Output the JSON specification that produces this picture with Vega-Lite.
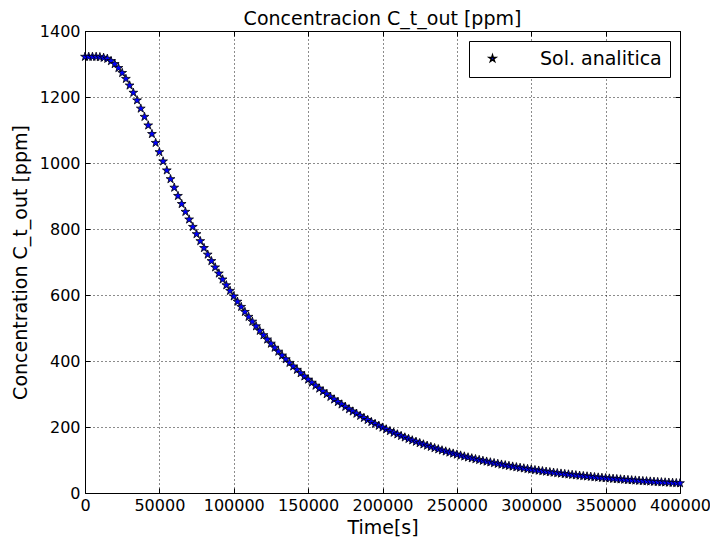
{
  "$schema": "https://vega.github.io/schema/vega-lite/v6.json",
  "autosize": "none",
  "width": 595,
  "height": 462,
  "padding": {"left": 85, "top": 31, "right": 30, "bottom": 47},
  "background": "white",
  "config": {
    "font": "DejaVu Sans",
    "view": {"stroke": "#000"},
    "axis": {
      "domainColor": "#000", "tickColor": "#000", "labelColor": "#000", "titleColor": "#000",
      "gridColor": "#000", "gridOpacity": 0.9,
      "labelFontSize": 16, "titleFontSize": 19, "titleFontWeight": "normal"
    },
    "title": {"fontSize": 19, "fontWeight": "normal", "color": "#000", "offset": -6}
  },
  "title": "Concentracion C_t_out [ppm]",
  "data": {"values": [
    {"s":"Sol. analitica","t":0,"c":1322},{"s":"Sol. analitica","t":2500,"c":1322},{"s":"Sol. analitica","t":5000,"c":1322},{"s":"Sol. analitica","t":7500,"c":1322},{"s":"Sol. analitica","t":10000,"c":1321},
    {"s":"Sol. analitica","t":12500,"c":1319},{"s":"Sol. analitica","t":15000,"c":1316},{"s":"Sol. analitica","t":17500,"c":1309},{"s":"Sol. analitica","t":20000,"c":1300},{"s":"Sol. analitica","t":22500,"c":1288},
    {"s":"Sol. analitica","t":25000,"c":1273},{"s":"Sol. analitica","t":27500,"c":1255},{"s":"Sol. analitica","t":30000,"c":1235},{"s":"Sol. analitica","t":32500,"c":1213},{"s":"Sol. analitica","t":35000,"c":1190},
    {"s":"Sol. analitica","t":37500,"c":1165},{"s":"Sol. analitica","t":40000,"c":1140},{"s":"Sol. analitica","t":42500,"c":1114},{"s":"Sol. analitica","t":45000,"c":1088},{"s":"Sol. analitica","t":47500,"c":1061},
    {"s":"Sol. analitica","t":50000,"c":1033},{"s":"Sol. analitica","t":52500,"c":1005},{"s":"Sol. analitica","t":55000,"c":977.7},{"s":"Sol. analitica","t":57500,"c":951.2},{"s":"Sol. analitica","t":60000,"c":925.4},
    {"s":"Sol. analitica","t":62500,"c":900.3},{"s":"Sol. analitica","t":65000,"c":875.9},{"s":"Sol. analitica","t":67500,"c":852.1},{"s":"Sol. analitica","t":70000,"c":829.0},{"s":"Sol. analitica","t":72500,"c":806.5},
    {"s":"Sol. analitica","t":75000,"c":784.6},{"s":"Sol. analitica","t":77500,"c":763.4},{"s":"Sol. analitica","t":80000,"c":742.6},{"s":"Sol. analitica","t":82500,"c":722.5},{"s":"Sol. analitica","t":85000,"c":702.9},
    {"s":"Sol. analitica","t":87500,"c":683.8},{"s":"Sol. analitica","t":90000,"c":665.3},{"s":"Sol. analitica","t":92500,"c":647.2},{"s":"Sol. analitica","t":95000,"c":629.7},{"s":"Sol. analitica","t":97500,"c":612.6},
    {"s":"Sol. analitica","t":100000,"c":596.0},{"s":"Sol. analitica","t":102500,"c":579.8},{"s":"Sol. analitica","t":105000,"c":564.1},{"s":"Sol. analitica","t":107500,"c":548.8},{"s":"Sol. analitica","t":110000,"c":533.9},
    {"s":"Sol. analitica","t":112500,"c":519.4},{"s":"Sol. analitica","t":115000,"c":505.3},{"s":"Sol. analitica","t":117500,"c":491.6},{"s":"Sol. analitica","t":120000,"c":478.3},{"s":"Sol. analitica","t":122500,"c":465.3},
    {"s":"Sol. analitica","t":125000,"c":452.7},{"s":"Sol. analitica","t":127500,"c":440.4},{"s":"Sol. analitica","t":130000,"c":428.5},{"s":"Sol. analitica","t":132500,"c":416.8},{"s":"Sol. analitica","t":135000,"c":405.5},
    {"s":"Sol. analitica","t":137500,"c":394.5},{"s":"Sol. analitica","t":140000,"c":383.8},{"s":"Sol. analitica","t":142500,"c":373.4},{"s":"Sol. analitica","t":145000,"c":363.3},{"s":"Sol. analitica","t":147500,"c":353.4},
    {"s":"Sol. analitica","t":150000,"c":343.8},{"s":"Sol. analitica","t":152500,"c":334.5},{"s":"Sol. analitica","t":155000,"c":325.4},{"s":"Sol. analitica","t":157500,"c":316.6},{"s":"Sol. analitica","t":160000,"c":308.0},
    {"s":"Sol. analitica","t":162500,"c":299.7},{"s":"Sol. analitica","t":165000,"c":291.5},{"s":"Sol. analitica","t":167500,"c":283.6},{"s":"Sol. analitica","t":170000,"c":275.9},{"s":"Sol. analitica","t":172500,"c":268.5},
    {"s":"Sol. analitica","t":175000,"c":261.2},{"s":"Sol. analitica","t":177500,"c":254.1},{"s":"Sol. analitica","t":180000,"c":247.2},{"s":"Sol. analitica","t":182500,"c":240.5},{"s":"Sol. analitica","t":185000,"c":234.0},
    {"s":"Sol. analitica","t":187500,"c":227.6},{"s":"Sol. analitica","t":190000,"c":221.4},{"s":"Sol. analitica","t":192500,"c":215.4},{"s":"Sol. analitica","t":195000,"c":209.6},{"s":"Sol. analitica","t":197500,"c":203.9},
    {"s":"Sol. analitica","t":200000,"c":198.4},{"s":"Sol. analitica","t":202500,"c":193.0},{"s":"Sol. analitica","t":205000,"c":187.8},{"s":"Sol. analitica","t":207500,"c":182.8},{"s":"Sol. analitica","t":210000,"c":177.9},
    {"s":"Sol. analitica","t":212500,"c":173.1},{"s":"Sol. analitica","t":215000,"c":168.5},{"s":"Sol. analitica","t":217500,"c":164.0},{"s":"Sol. analitica","t":220000,"c":159.7},{"s":"Sol. analitica","t":222500,"c":155.5},
    {"s":"Sol. analitica","t":225000,"c":151.4},{"s":"Sol. analitica","t":227500,"c":147.4},{"s":"Sol. analitica","t":230000,"c":143.6},{"s":"Sol. analitica","t":232500,"c":139.9},{"s":"Sol. analitica","t":235000,"c":136.2},
    {"s":"Sol. analitica","t":237500,"c":132.7},{"s":"Sol. analitica","t":240000,"c":129.3},{"s":"Sol. analitica","t":242500,"c":126.0},{"s":"Sol. analitica","t":245000,"c":122.8},{"s":"Sol. analitica","t":247500,"c":119.7},
    {"s":"Sol. analitica","t":250000,"c":116.6},{"s":"Sol. analitica","t":252500,"c":113.7},{"s":"Sol. analitica","t":255000,"c":110.8},{"s":"Sol. analitica","t":257500,"c":108.0},{"s":"Sol. analitica","t":260000,"c":105.3},
    {"s":"Sol. analitica","t":262500,"c":102.7},{"s":"Sol. analitica","t":265000,"c":100.2},{"s":"Sol. analitica","t":267500,"c":97.7},{"s":"Sol. analitica","t":270000,"c":95.3},{"s":"Sol. analitica","t":272500,"c":93.0},
    {"s":"Sol. analitica","t":275000,"c":90.7},{"s":"Sol. analitica","t":277500,"c":88.5},{"s":"Sol. analitica","t":280000,"c":86.3},{"s":"Sol. analitica","t":282500,"c":84.3},{"s":"Sol. analitica","t":285000,"c":82.2},
    {"s":"Sol. analitica","t":287500,"c":80.3},{"s":"Sol. analitica","t":290000,"c":78.3},{"s":"Sol. analitica","t":292500,"c":76.5},{"s":"Sol. analitica","t":295000,"c":74.7},{"s":"Sol. analitica","t":297500,"c":72.9},
    {"s":"Sol. analitica","t":300000,"c":71.2},{"s":"Sol. analitica","t":302500,"c":69.5},{"s":"Sol. analitica","t":305000,"c":67.9},{"s":"Sol. analitica","t":307500,"c":66.3},{"s":"Sol. analitica","t":310000,"c":64.8},
    {"s":"Sol. analitica","t":312500,"c":63.3},{"s":"Sol. analitica","t":315000,"c":61.8},{"s":"Sol. analitica","t":317500,"c":60.4},{"s":"Sol. analitica","t":320000,"c":59.0},{"s":"Sol. analitica","t":322500,"c":57.7},
    {"s":"Sol. analitica","t":325000,"c":56.4},{"s":"Sol. analitica","t":327500,"c":55.1},{"s":"Sol. analitica","t":330000,"c":53.9},{"s":"Sol. analitica","t":332500,"c":52.7},{"s":"Sol. analitica","t":335000,"c":51.5},
    {"s":"Sol. analitica","t":337500,"c":50.4},{"s":"Sol. analitica","t":340000,"c":49.3},{"s":"Sol. analitica","t":342500,"c":48.2},{"s":"Sol. analitica","t":345000,"c":47.1},{"s":"Sol. analitica","t":347500,"c":46.1},
    {"s":"Sol. analitica","t":350000,"c":45.1},{"s":"Sol. analitica","t":352500,"c":44.1},{"s":"Sol. analitica","t":355000,"c":43.2},{"s":"Sol. analitica","t":357500,"c":42.3},{"s":"Sol. analitica","t":360000,"c":41.4},
    {"s":"Sol. analitica","t":362500,"c":40.5},{"s":"Sol. analitica","t":365000,"c":39.6},{"s":"Sol. analitica","t":367500,"c":38.8},{"s":"Sol. analitica","t":370000,"c":38.0},{"s":"Sol. analitica","t":372500,"c":37.2},
    {"s":"Sol. analitica","t":375000,"c":36.4},{"s":"Sol. analitica","t":377500,"c":35.7},{"s":"Sol. analitica","t":380000,"c":34.9},{"s":"Sol. analitica","t":382500,"c":34.2},{"s":"Sol. analitica","t":385000,"c":33.5},
    {"s":"Sol. analitica","t":387500,"c":32.8},{"s":"Sol. analitica","t":390000,"c":32.2},{"s":"Sol. analitica","t":392500,"c":31.5},{"s":"Sol. analitica","t":395000,"c":30.9},{"s":"Sol. analitica","t":397500,"c":30.3},
    {"s":"Sol. analitica","t":400000,"c":29.7}
  ]},
  "layer": [
    {
      "mark": {"type": "point", "shape": "M0,-1L0.2245,-0.309L0.9511,-0.309L0.3633,0.118L0.5878,0.809L0,0.382L-0.5878,0.809L-0.3633,0.118L-0.9511,-0.309L-0.2245,-0.309Z",
               "filled": true, "stroke": "#000", "strokeWidth": 0.8, "size": 85, "opacity": 1},
      "encoding": {
        "x": {"field": "t", "type": "quantitative", "scale": {"domain": [0, 400000], "nice": false},
              "axis": {"title": "Time[s]", "values": [0,50000,100000,150000,200000,250000,300000,350000,400000], "format": "d",
                       "grid": true, "gridDash": [1, 3], "domain": false, "offset": -5, "tickSize": 5, "labelPadding": 4, "titlePadding": 5, "labelOverlap": false, "labelFlush": false}},
        "y": {"field": "c", "type": "quantitative", "scale": {"domain": [0, 1400], "nice": false},
              "axis": {"title": "Concentration C_t_out [ppm]", "values": [0,200,400,600,800,1000,1200,1400], "format": "d",
                       "grid": true, "gridDash": [1, 3], "domain": false, "offset": -5, "tickSize": 5, "labelPadding": 5, "titlePadding": 9, "labelOverlap": false, "labelFlush": false}},
        "color": {"field": "s", "type": "nominal", "scale": {"range": ["#0000ff"]},
                  "legend": {"title": null, "orient": "top-right", "offset": 10, "labelFontSize": 19, "labelColor": "#000",
                             "symbolType": "M0,-1L0.2245,-0.309L0.9511,-0.309L0.3633,0.118L0.5878,0.809L0,0.382L-0.5878,0.809L-0.3633,0.118L-0.9511,-0.309L-0.2245,-0.309Z",
                             "symbolSize": 50, "symbolOffset": 6, "labelOffset": 38,
                             "strokeColor": "#000", "fillColor": "#fff", "padding": 8}}
      }
    },
    {
      "mark": {"type": "point", "opacity": 0},
      "encoding": {
        "x": {"field": "t", "type": "quantitative", "axis": {"orient": "top", "labels": false, "title": null, "grid": false, "domain": false, "offset": -5, "tickSize": 5,
              "values": [0,50000,100000,150000,200000,250000,300000,350000,400000]}},
        "y": {"field": "c", "type": "quantitative", "axis": {"orient": "right", "labels": false, "title": null, "grid": false, "domain": false, "offset": -5, "tickSize": 5,
              "values": [0,200,400,600,800,1000,1200,1400]}}
      }
    }
  ],
  "resolve": {"axis": {"x": "independent", "y": "independent"}}
}
